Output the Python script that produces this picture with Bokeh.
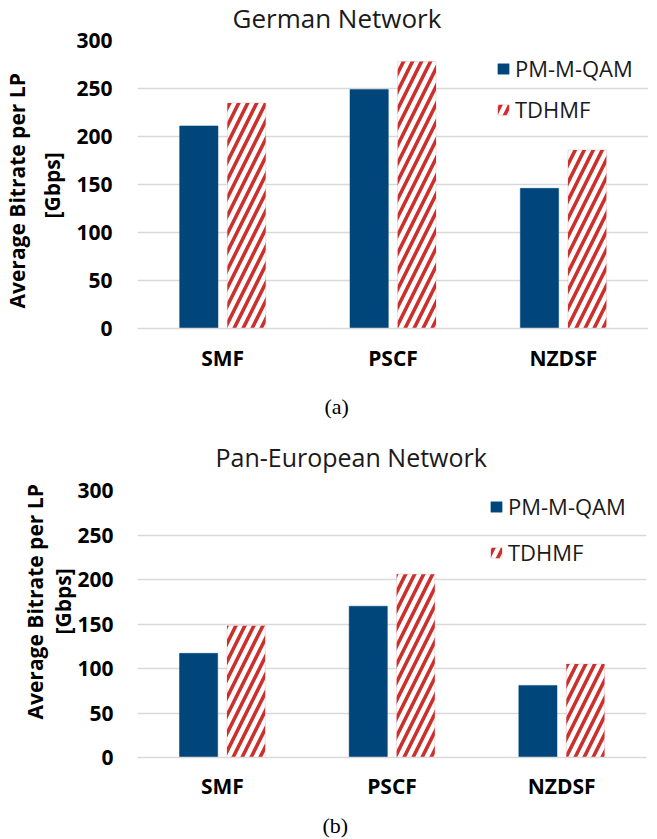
from bokeh.plotting import figure
from bokeh.models import (ColumnDataSource, Range1d, FactorRange, Title, Legend, LegendItem,
                          FixedTicker)
from bokeh.transform import dodge
from bokeh.layouts import column
from bokeh.embed import file_html
from bokeh.resources import INLINE

# ---- data ----
categories = ["SMF", "PSCF", "NZDSF"]
series_names = ["PM-M-QAM", "TDHMF"]
german_pm = [211, 249, 146]
german_td = [235, 278, 186]
paneu_pm = [117, 170, 81]
paneu_td = [148, 206, 105]
y_ticks = [0, 50, 100, 150, 200, 250, 300]
y_label_lines = ["Average Bitrate per LP", "[Gbps]"]

BLUE = "#00467A"
RED = "#CC302C"
GRID = "#D9D9D9"
FONT = "Open Sans"


def make_panel(title, caption, pm, td, frame_left, frame_w, frame_h, top, bottom, margin_top,
               title_off, title_standoff, title_size, cap_off, cap_standoff,
               ylab_offs, ylab_standoffs, legend_loc, legend_spacing, tick_standoff,
               cat_standoff):
    src = ColumnDataSource(dict(cat=categories, pm=pm, td=td))
    p = figure(x_range=FactorRange(*categories), y_range=Range1d(0, 300),
               frame_width=frame_w, frame_height=frame_h,
               min_border_left=frame_left, min_border_right=2,
               min_border_top=top, min_border_bottom=bottom,
               margin=(margin_top, 0, 0, 0),
               output_backend="svg", toolbar_location=None,
               background_fill_color="white", border_fill_color="white")
    p.outline_line_color = None
    r1 = p.vbar(x=dodge("cat", -0.14, range=p.x_range), top="pm", width=0.225, source=src,
                fill_color=BLUE, line_color=BLUE, line_width=0.5)
    r2 = p.vbar(x=dodge("cat", 0.14, range=p.x_range), top="td", width=0.225, source=src,
                fill_color="white", line_color=RED, line_alpha=0.35, line_width=0.5,
                hatch_pattern="/", hatch_color=RED, hatch_scale=18, hatch_weight=3.6)

    # axes
    p.yaxis.ticker = FixedTicker(ticks=y_ticks)
    p.yaxis.axis_line_color = None
    p.yaxis.major_tick_line_color = None
    p.yaxis.major_tick_out = 0
    p.yaxis.major_tick_in = 0
    p.yaxis.minor_tick_line_color = None
    p.yaxis.major_label_standoff = tick_standoff
    p.yaxis.major_label_text_font = FONT
    p.yaxis.major_label_text_font_style = "bold"
    p.yaxis.major_label_text_font_size = "21px"
    p.yaxis.major_label_text_color = "#000000"

    p.xaxis.axis_line_color = GRID
    p.xaxis.axis_line_width = 1.5
    p.xaxis.major_tick_line_color = None
    p.xaxis.major_tick_out = 0
    p.xaxis.major_tick_in = 0
    p.xaxis.minor_tick_line_color = None
    p.xaxis.major_label_standoff = cat_standoff
    p.xaxis.major_label_text_font = FONT
    p.xaxis.major_label_text_font_style = "bold"
    p.xaxis.major_label_text_font_size = "21px"
    p.xaxis.major_label_text_color = "#000000"

    p.xgrid.grid_line_color = None
    p.ygrid.grid_line_color = GRID
    p.ygrid.grid_line_width = 1.5

    # title (above)
    p.title.text = title
    p.title.align = "left"
    p.title.vertical_align = "bottom"
    p.title.offset = title_off
    p.title.standoff = title_standoff
    p.title.text_font = FONT
    p.title.text_font_size = title_size
    p.title.text_font_style = "normal"
    p.title.text_color = "#1A1A1A"

    # caption (below, after the category axis)
    p.add_layout(Title(text=caption, align="left", offset=cap_off, standoff=cap_standoff,
                       text_font="Liberation Serif", text_font_size="22px",
                       text_font_style="normal", text_color="#000000"), "below")

    # y axis title, two lines: nearest to the frame first
    for line, off, so in [(y_label_lines[1], ylab_offs[1], ylab_standoffs[1]),
                          (y_label_lines[0], ylab_offs[0], ylab_standoffs[0])]:
        p.add_layout(Title(text=line, align="left", offset=off, standoff=so,
                           text_font=FONT, text_font_size="21px", text_font_style="bold",
                           text_color="#000000"), "left")

    legend = Legend(items=[LegendItem(label=series_names[0], renderers=[r1]),
                           LegendItem(label=series_names[1], renderers=[r2])],
                    location=legend_loc, orientation="vertical",
                    padding=0, margin=0, spacing=legend_spacing,
                    glyph_width=14, glyph_height=13, label_standoff=5,
                    label_text_font=FONT, label_text_font_size="22px",
                    label_text_color="#1A1A1A",
                    border_line_color=None, background_fill_alpha=0)
    p.add_layout(legend)
    return p


p1 = make_panel("German Network", "(a)", german_pm, german_td,
                frame_left=135, frame_w=511, frame_h=288, top=47, bottom=106, margin_top=-7,
                title_off=95, title_standoff=8.5, title_size="26px",
                cap_off=187, cap_standoff=35,
                ylab_offs=(20, 110), ylab_standoffs=(-6, 16),
                legend_loc=(359, 204), legend_spacing=11, tick_standoff=25,
                cat_standoff=15)

p2 = make_panel("Pan-European Network", "(b)", paneu_pm, paneu_td,
                frame_left=137, frame_w=509, frame_h=267, top=70, bottom=81, margin_top=-16,
                title_off=78, title_standoff=33, title_size="25px",
                cap_off=185, cap_standoff=17,
                ylab_offs=(38, 123), ylab_standoffs=(2, -5),
                legend_loc=(352, 190), legend_spacing=16, tick_standoff=24,
                cat_standoff=14)

layout = column(p1, p2, spacing=0)
open("out.html", "w").write(file_html(layout, INLINE))
